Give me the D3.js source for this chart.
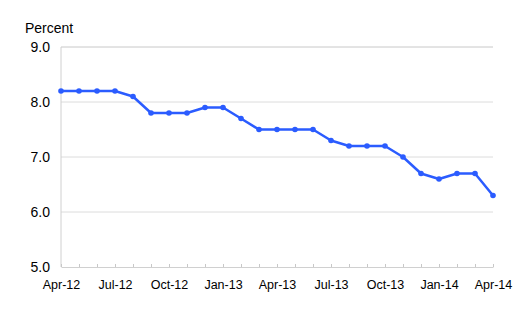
<!DOCTYPE html>
<html>
<head>
<meta charset="utf-8">
<script src="https://cdn.jsdelivr.net/npm/d3@7"></script>
<style>
  body { margin: 0; background: #fff; }
  text { font-family: "Liberation Sans", Arial, sans-serif; fill: #000; }
</style>
</head>
<body>
<div id="chart"></div>
<script>
const months = ["Apr-12","May-12","Jun-12","Jul-12","Aug-12","Sep-12","Oct-12","Nov-12","Dec-12",
  "Jan-13","Feb-13","Mar-13","Apr-13","May-13","Jun-13","Jul-13","Aug-13","Sep-13","Oct-13","Nov-13","Dec-13",
  "Jan-14","Feb-14","Mar-14","Apr-14"];
const values = [8.2,8.2,8.2,8.2,8.1,7.8,7.8,7.8,7.9,7.9,7.7,7.5,7.5,7.5,7.5,7.3,7.2,7.2,7.2,7.0,6.7,6.6,6.7,6.7,6.3];
const labeledMonths = ["Apr-12","Jul-12","Oct-12","Jan-13","Apr-13","Jul-13","Oct-13","Jan-14","Apr-14"];
const yTicks = [5, 6, 7, 8, 9];

const W = 520, H = 316;
const MARGIN = { LEFT: 61, RIGHT: 27, TOP: 47, BOTTOM: 49 };

const svg = d3.select("#chart").append("svg")
  .attr("width", W)
  .attr("height", H);

const x = d3.scalePoint().domain(months).range([MARGIN.LEFT, W - MARGIN.RIGHT]);
const y = d3.scaleLinear().domain([5, 9]).range([H - MARGIN.BOTTOM, MARGIN.TOP]);

// gridlines
svg.append("g")
  .selectAll("line")
  .data(yTicks.slice(1))
  .join("line")
  .attr("x1", MARGIN.LEFT).attr("x2", W - MARGIN.RIGHT)
  .attr("y1", d => y(d)).attr("y2", d => y(d))
  .attr("stroke", d => d === 9 ? "#c8c8c8" : "#dcdcdc")
  .attr("stroke-width", 1);

// left axis line
svg.append("line")
  .attr("x1", MARGIN.LEFT).attr("x2", MARGIN.LEFT)
  .attr("y1", y(9)).attr("y2", y(5))
  .attr("stroke", "#d0d0d0");

// y labels
svg.append("g")
  .selectAll("text")
  .data(yTicks)
  .join("text")
  .attr("x", MARGIN.LEFT - 11)
  .attr("y", d => y(d))
  .attr("dy", "0.36em")
  .attr("text-anchor", "end")
  .style("font-size", "14px")
  .text(d => d.toFixed(1));

// x axis
const xAxis = d3.axisBottom(x)
  .tickSizeInner(-3)
  .tickSizeOuter(0)
  .tickPadding(13)
  .tickFormat(d => labeledMonths.includes(d) ? d : "");
const gx = svg.append("g")
  .attr("transform", `translate(0,${y(5)})`)
  .call(xAxis);
gx.select(".domain").attr("stroke", "#d0d0d0");
gx.selectAll(".tick line").attr("stroke", "#c8c8c8");
gx.selectAll(".tick text").style("font-size", "12.5px").attr("font-family", null);

// title
svg.append("text")
  .attr("x", 25)
  .attr("y", 33)
  .style("font-size", "14px")
  .text("Percent");

// line
const line = d3.line()
  .x((d, i) => x(months[i]))
  .y(d => y(d));

svg.append("path")
  .datum(values)
  .attr("fill", "none")
  .attr("stroke", "#2b5cff")
  .attr("stroke-width", 2.5)
  .attr("stroke-linejoin", "round")
  .attr("d", line);

svg.append("g")
  .selectAll("circle")
  .data(values)
  .join("circle")
  .attr("cx", (d, i) => x(months[i]))
  .attr("cy", d => y(d))
  .attr("r", 2.8)
  .attr("fill", "#2b5cff");
</script>
</body>
</html>
